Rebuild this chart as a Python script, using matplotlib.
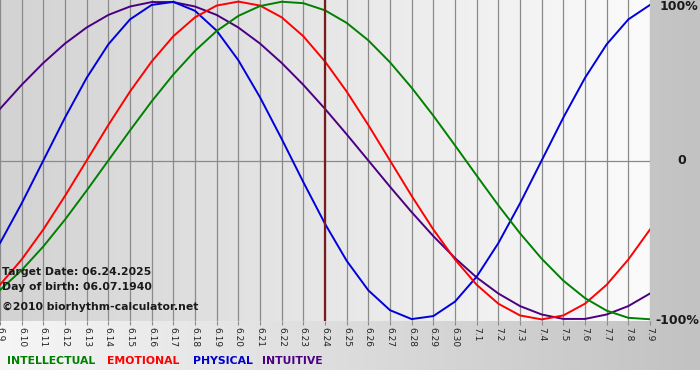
import numpy as np
import matplotlib
matplotlib.use("Agg")
import matplotlib.pyplot as plt
from matplotlib.colors import LinearSegmentedColormap

# dates shown on the axis (month.day)
days = ["6.9", "6.10", "6.11", "6.12", "6.13", "6.14", "6.15", "6.16", "6.17", "6.18",
        "6.19", "6.20", "6.21", "6.22", "6.23", "6.24", "6.25", "6.26", "6.27", "6.28",
        "6.29", "6.30", "7.1", "7.2", "7.3", "7.4", "7.5", "7.6", "7.7", "7.8", "7.9"]

# cycle values per day (-1 .. 1)
physical = [-0.520, -0.270, 0.000, 0.270, 0.520, 0.731, 0.888, 0.979, 0.998, 0.942,
            0.817, 0.631, 0.398, 0.136, -0.136, -0.398, -0.631, -0.817, -0.942, -0.998,
            -0.979, -0.888, -0.731, -0.520, -0.270, 0.000, 0.270, 0.520, 0.731, 0.888, 0.979]
emotional = [-0.782, -0.623, -0.434, -0.223, 0.000, 0.223, 0.434, 0.623, 0.782, 0.901,
             0.975, 1.000, 0.975, 0.901, 0.782, 0.623, 0.434, 0.223, 0.000, -0.223,
             -0.434, -0.623, -0.782, -0.901, -0.975, -1.000, -0.975, -0.901, -0.782, -0.623, -0.434]
intellectual = [-0.815, -0.690, -0.541, -0.372, -0.189, 0.000, 0.189, 0.372, 0.541, 0.690,
                0.815, 0.910, 0.972, 0.999, 0.990, 0.945, 0.866, 0.756, 0.618, 0.458,
                0.282, 0.095, -0.095, -0.282, -0.458, -0.618, -0.756, -0.866, -0.945, -0.990, -0.999]
intuitive = [0.325, 0.476, 0.614, 0.736, 0.837, 0.916, 0.969, 0.997, 0.997, 0.969,
             0.916, 0.837, 0.736, 0.614, 0.476, 0.325, 0.165, 0.000, -0.165, -0.325,
             -0.476, -0.614, -0.736, -0.837, -0.916, -0.969, -0.997, -0.997, -0.969, -0.916, -0.837]

target_day = "6.24"
target_text = "Target Date: 06.24.2025"
birth_text = "Day of birth: 06.07.1940"
copy_text = "\u00a92010 biorhythm-calculator.net"

W, H = 700, 380
fig = plt.figure(figsize=(7, 3.8), dpi=100, facecolor="white")

# outer gray gradient
bg = fig.add_axes([0, 10 / H, 1, 1 - 10 / H])
bg.imshow(np.linspace(0, 1, 256)[None, :], aspect="auto", extent=[0, 1, 0, 1],
          cmap=LinearSegmentedColormap.from_list("o", ["#f6f6f6", "#c2c2c2"]))
bg.set_axis_off()

ax = fig.add_axes([0, 1 - 321 / H, 650 / W, 321 / H])
x = np.arange(len(days))
ax.imshow(np.linspace(0, 1, 256)[None, :], aspect="auto", extent=[0, len(days) - 1, -1.01, 1.01],
          cmap=LinearSegmentedColormap.from_list("p", ["#d3d3d3", "#fbfbfb"]), zorder=0)
ax.set_xlim(0, len(days) - 1)
ax.set_ylim(-1.01, 1.01)

for xi in x:
    ax.axvline(xi, color="#8a8a8a", lw=0.9, zorder=1)
ax.axhline(0, color="#8a8a8a", lw=0.9, zorder=1)

ax.plot(x, intuitive, color="#4b0082", lw=1.4, zorder=3)
ax.plot(x, physical, color="#0000dd", lw=1.4, zorder=3)
ax.plot(x, emotional, color="#ff0000", lw=1.4, zorder=3)
ax.plot(x, intellectual, color="#008000", lw=1.4, zorder=3)
ax.axvline(days.index(target_day), color="#7a1a1a", lw=1.6, zorder=4)

for s in ax.spines.values():
    s.set_visible(False)
ax.set_yticks([])
ax.set_xticks(x)
ax.set_xticklabels(days, rotation=270, fontsize=6.5, color="#222222")
ax.tick_params(axis="x", length=3, color="#8a8a8a", pad=1)

tf = dict(fontsize=7.8, fontweight="bold", color="#1a1a1a", family="DejaVu Sans")
ax.text(2 / 650, 1 - 272 / 321, target_text, transform=ax.transAxes, va="center", **tf)
ax.text(2 / 650, 1 - 287 / 321, birth_text, transform=ax.transAxes, va="center", **tf)
ax.text(2 / 650, 1 - 307 / 321, copy_text, transform=ax.transAxes, va="center", **tf)

rf = dict(fontsize=9, fontweight="bold", color="#1a1a1a", va="center")
fig.text(660 / W, 1 - 7 / H, "100%", **rf)
fig.text(677 / W, 1 - 161 / H, "0", **rf)
fig.text(655 / W, 1 - 321 / H, "-100%", **rf)

lf = dict(fontsize=7.8, fontweight="bold", va="center")
fig.text(7 / W, 1 - 361 / H, "INTELLECTUAL", color="#008000", **lf)
fig.text(107 / W, 1 - 361 / H, "EMOTIONAL", color="#ff0000", **lf)
fig.text(193 / W, 1 - 361 / H, "PHYSICAL", color="#0000cc", **lf)
fig.text(262 / W, 1 - 361 / H, "INTUITIVE", color="#4b0082", **lf)

fig.savefig("out.png", dpi=100, facecolor="white")
